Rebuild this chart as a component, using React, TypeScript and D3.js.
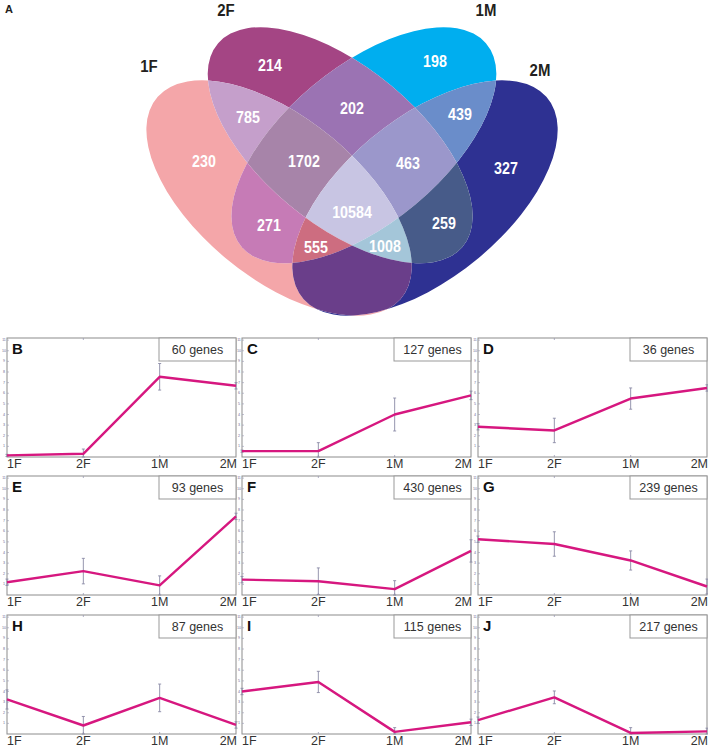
import React from "react";
import * as d3 from "d3";

// ---------- Venn data ----------
const setNames = ["1F", "2F", "1M", "2M"];
// region keys: indices of sets the region belongs to (0=1F,1=2F,2=1M,3=2M)
const vennKeys = ["0", "1", "2", "3", "01", "12", "23", "012", "123", "0123", "02", "023", "013", "13", "03"];
const vennCounts: (number | null)[] = [230, 214, 198, 327, 785, 202, 439, 1702, 463, 10584, 271, 555, 1008, 259, null];
const vennColors = [
  "#f4a6a9", "#a44584", "#00aeef", "#2e3192", "#c59fcb", "#9b73b3", "#6a8dca",
  "#a784a9", "#9b97cb", "#c8c5e3", "#c67bb6", "#cd6d80", "#a4c6d9", "#475b89", "#6a3e8a",
];
// label positions (layout)
const vennLabelPos: [number, number][] = [
  [204, 161], [270, 65], [435, 61], [506, 168], [248, 117], [352, 108], [460, 114],
  [304, 161], [408, 163], [352, 212], [269, 225], [316, 247], [385, 246], [444, 223], [0, 0],
];
const setLabelPos: [number, number][] = [[149, 66], [226, 10], [486, 10], [540, 70]];

// ellipse geometry (in a 0.456 x 0.33 scaled frame)
const ellipses = [
  { cx: 612, cy: 600, rx: 412, ry: 205, rot: 54.7 },
  { cx: 746, cy: 440, rx: 415, ry: 200, rot: 54.6 },
  { cx: 798, cy: 440, rx: 415, ry: 200, rot: -54.6 },
  { cx: 932, cy: 600, rx: 412, ry: 205, rot: -54.7 },
];

// ---------- Line panels data ----------
const categories = ["1F", "2F", "1M", "2M"];
const panelLetters = ["B", "C", "D", "E", "F", "G", "H", "I", "J"];
const geneCounts = [60, 127, 36, 93, 430, 239, 87, 115, 217];
const meanB = [0.15, 0.3, 7.55, 6.7];
const meanC = [0.55, 0.55, 4.0, 5.8];
const meanD = [2.85, 2.5, 5.5, 6.5];
const meanE = [1.2, 2.25, 0.9, 7.4];
const meanF = [1.45, 1.3, 0.55, 4.15];
const meanG = [5.25, 4.8, 3.25, 0.8];
const meanH = [3.25, 0.8, 3.4, 0.85];
const meanI = [4.0, 4.9, 0.2, 1.1];
const meanJ = [1.3, 3.45, 0.1, 0.25];
const errB = [0.1, 0.45, 1.25, 0.3];
const errC = [0.1, 0.8, 1.55, 0.4];
const errD = [0.3, 1.15, 1.0, 0.3];
const errE = [0.3, 1.2, 0.9, 0.3];
const errF = [0.3, 1.25, 0.8, 1.05];
const errG = [0.3, 1.15, 0.9, 0.7];
const errH = [0.9, 0.85, 1.3, 0.3];
const errI = [0.3, 1.0, 0.4, 0.3];
const errJ = [0.3, 0.6, 0.5, 0.3];
const panelMeans = [meanB, meanC, meanD, meanE, meanF, meanG, meanH, meanI, meanJ];
const panelErrs = [errB, errC, errD, errE, errF, errG, errH, errI, errJ];
const yTicks = [1, 2, 3, 4, 5, 6, 7, 8, 9, 10, 11];

const colLeft = [7, 242, 478];
const colW = 229;
const rowTop = [338, 476, 615];
const rowH = 119;

const LINE = "#d6177f";
const ERR = "#8a8aa6";
const SANS = "Liberation Sans, Arial, sans-serif";

function Panel({ i }: { i: number }) {
  const left = colLeft[i % 3];
  const top = rowTop[Math.floor(i / 3)];
  const right = left + colW;
  const bottom = top + rowH;
  const x = d3.scalePoint<string>().domain(categories).range([left, right]).padding(0);
  const y = d3.scaleLinear().domain([0, 11.2]).range([bottom, top]);
  const means = panelMeans[i];
  const errs = panelErrs[i];
  const line = d3.line<number>().x((_, k) => x(categories[k])!).y((d) => y(d));
  const clampY = (v: number) => y(Math.max(0, Math.min(11.2, v)));
  return (
    <g>
      <rect x={left} y={top} width={colW} height={rowH} fill="#fff" stroke="#8c8c8c" strokeWidth={1} />
      {yTicks.map((t) => (
        <g key={t}>
          <line x1={left} x2={left + 2} y1={y(t)} y2={y(t)} stroke="#9a9ab4" strokeWidth={0.6} />
          <text x={left - 3} y={y(t)} fontSize={3.6} fill="#6a6a90" textAnchor="middle" dominantBaseline="central" fontFamily={SANS}>{t}</text>
        </g>
      ))}
      {categories.slice(1, 3).map((c) => (
        <g key={c}>
          <line x1={x(c)} x2={x(c)} y1={top} y2={top + 2} stroke="#9a9ab4" strokeWidth={0.8} />
          <line x1={x(c)} x2={x(c)} y1={bottom} y2={bottom - 2} stroke="#9a9ab4" strokeWidth={0.8} />
        </g>
      ))}
      {means.map((m, k) => {
        const cx = x(categories[k])!;
        const y1 = clampY(m + errs[k]);
        const y2 = clampY(m - errs[k]);
        return (
          <g key={k}>
            <line x1={cx} x2={cx} y1={y1} y2={y2} stroke={ERR} strokeWidth={0.9} />
            <line x1={cx - 1.5} x2={cx + 1.5} y1={y1} y2={y1} stroke={ERR} strokeWidth={0.9} />
            <line x1={cx - 1.5} x2={cx + 1.5} y1={y2} y2={y2} stroke={ERR} strokeWidth={0.9} />
          </g>
        );
      })}
      <path d={line(means) || ""} fill="none" stroke={LINE} strokeWidth={2.4} strokeLinejoin="round" />
      <rect x={right - 77} y={top} width={77} height={23} fill="#fff" stroke="#999" strokeWidth={1} />
      <text x={right - 38.5} y={top + 12} fontSize={12.5} fill="#333" textAnchor="middle" dominantBaseline="central" fontFamily={SANS}>{geneCounts[i]} genes</text>
      <text x={left + 5} y={top + 16} fontSize={15} fontWeight="bold" fill="#111" fontFamily={SANS}>{panelLetters[i]}</text>
      {categories.map((c, k) => (
        <text key={c} x={k === 0 ? left : k === 3 ? right + 1 : x(c)} y={bottom + 11} fontSize={12.5} fill="#333"
          textAnchor={k === 0 ? "start" : k === 3 ? "end" : "middle"} fontFamily={SANS}>{c}</text>
      ))}
    </g>
  );
}

function Condensed({ x, y, size, fill, sx, children }: { x: number; y: number; size: number; fill: string; sx: number; children: React.ReactNode }) {
  return (
    <text transform={`translate(${x},${y}) scale(${sx},1)`} fill={fill} fontSize={size} fontWeight="bold"
      textAnchor="middle" dominantBaseline="central" fontFamily={SANS}>{children}</text>
  );
}

export default function App() {
  const bigBox = { x: -100, y: -100, w: 2000, h: 1400 };
  return (
    <svg width={708} height={750} style={{ display: "block", position: "absolute", left: 0, top: 0 }}>
      <rect width={708} height={750} fill="#fff" />
      <defs>
        {ellipses.map((e, i) => (
          <clipPath id={`vc${i}`} key={`c${i}`} clipPathUnits="userSpaceOnUse">
            <ellipse cx={e.cx} cy={e.cy} rx={e.rx} ry={e.ry} transform={`rotate(${e.rot},${e.cx},${e.cy})`} />
          </clipPath>
        ))}
        {ellipses.map((e, i) => (
          <mask id={`vm${i}`} key={`m${i}`} maskUnits="userSpaceOnUse" x={bigBox.x} y={bigBox.y} width={bigBox.w} height={bigBox.h}>
            <rect x={bigBox.x} y={bigBox.y} width={bigBox.w} height={bigBox.h} fill="#fff" />
            <ellipse cx={e.cx} cy={e.cy} rx={e.rx} ry={e.ry} transform={`rotate(${e.rot},${e.cx},${e.cy})`} fill="#000" />
          </mask>
        ))}
      </defs>
      <g transform="scale(0.456,0.33)">
        {vennKeys.map((key, r) => {
          let node: React.ReactNode = (
            <rect x={bigBox.x} y={bigBox.y} width={bigBox.w} height={bigBox.h} fill={vennColors[r]} />
          );
          [0, 1, 2, 3].forEach((s) => {
            const inside = key.includes(String(s));
            node = inside ? <g clipPath={`url(#vc${s})`}>{node}</g> : <g mask={`url(#vm${s})`}>{node}</g>;
          });
          return <g key={key}>{node}</g>;
        })}
      </g>
      {vennCounts.map((c, r) =>
        c === null ? null : (
          <Condensed key={r} x={vennLabelPos[r][0]} y={vennLabelPos[r][1]} size={17} fill="#fff" sx={0.84}>{c}</Condensed>
        )
      )}
      {setNames.map((n, i) => (
        <Condensed key={n} x={setLabelPos[i][0]} y={setLabelPos[i][1]} size={17} fill="#231f20" sx={0.88}>{n}</Condensed>
      ))}
      <text x={5} y={13} fontSize={11} fontWeight="bold" fill="#231f20" fontFamily={SANS}>A</text>
      {panelLetters.map((_, i) => <Panel key={i} i={i} />)}
    </svg>
  );
}
